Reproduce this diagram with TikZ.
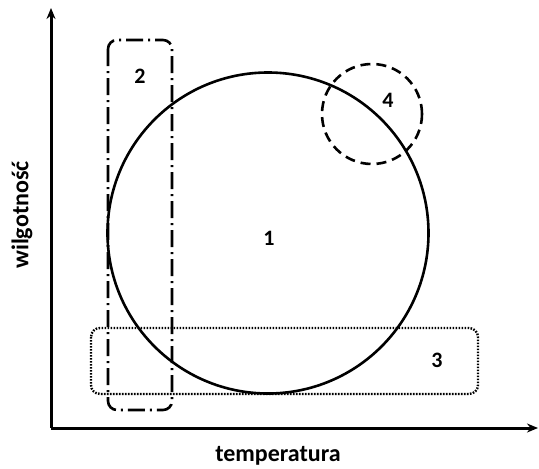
\documentclass[tikz,border=0pt]{standalone}
\usepackage{fontspec}
\setmainfont{Carlito}
\usetikzlibrary{arrows.meta}
\begin{document}
\begin{tikzpicture}[x=1pt,y=-1pt,
  lab/.style={font=\fontsize{22}{22}\selectfont\bfseries, inner sep=0pt},
  axlab/.style={font=\fontsize{24}{24}\selectfont\bfseries, inner sep=0pt},
  axis/.style={line width=3pt,-{Stealth[length=11pt,width=9pt]}},
  zone/.style={line width=2.6pt}]
\useasboundingbox (0,0) rectangle (539,469);
\coordinate (o) at (51,428);
\coordinate (ytip) at (51,8);
\coordinate (xtip) at (538,428);
\draw[axis] (o) -- (ytip);
\draw[axis] (o) -- (xtip);
% zone 1
\draw[zone] (268,233) circle (160.5);
% zone 4
\draw[zone, dash pattern=on 10pt off 6pt] (372,114) circle (50);
% zone 2
\draw[zone, rounded corners=9pt, dash pattern=on 17pt off 5pt on 2pt off 5pt] (108,40) rectangle (172,410);
% zone 3
\draw[zone, line width=2.4pt, rounded corners=9pt, dash pattern=on 1.6pt off 1.4pt] (91,328) rectangle (478,394);
\node[lab] (n1) at (269,238) {1};
\node[lab] (n2) at (140,76) {2};
\node[lab] (n3) at (437,360) {3};
\node[lab] (n4) at (388,100) {4};
\node[axlab] (tx) at (278,456) {temperatura};
\node[axlab, rotate=90] (ty) at (22,215) {wilgotność};
\end{tikzpicture}
\end{document}
